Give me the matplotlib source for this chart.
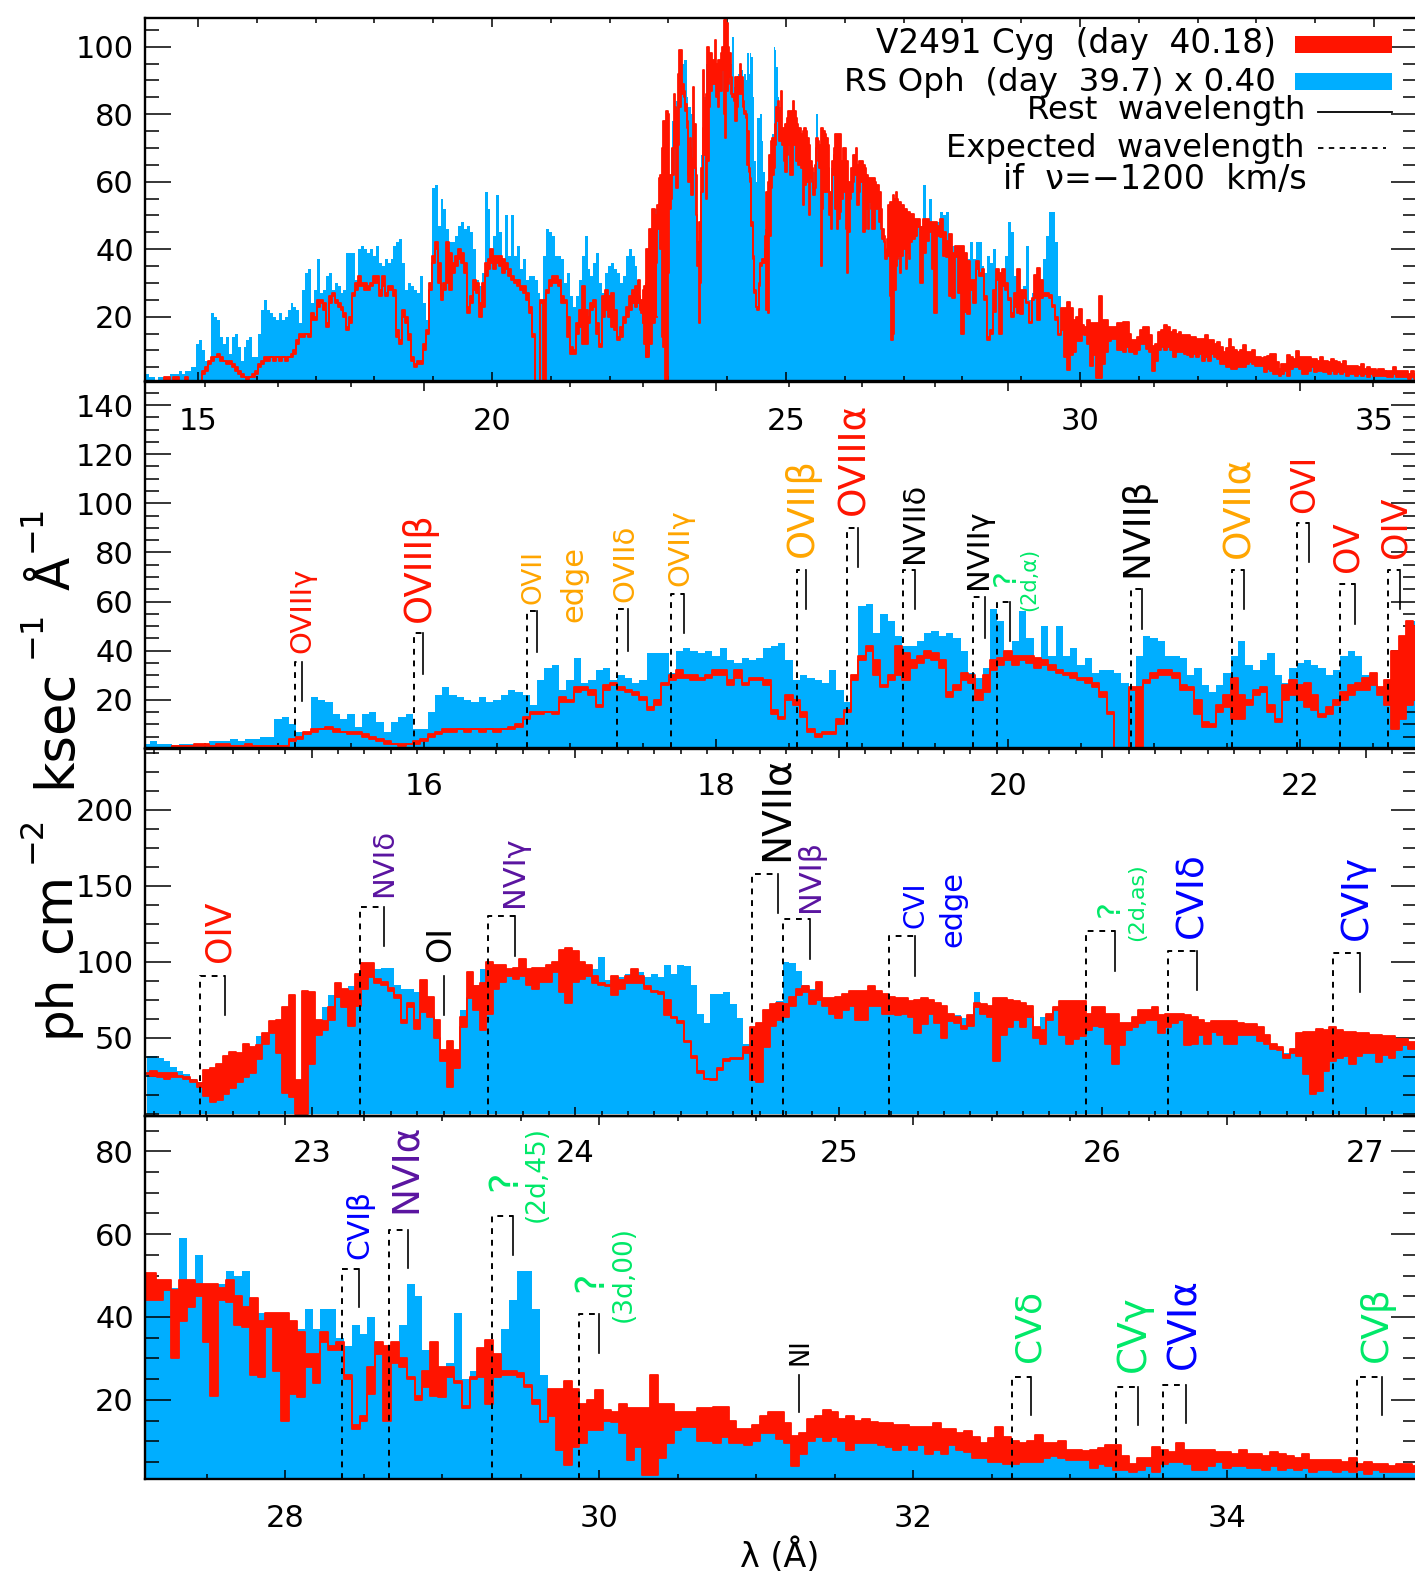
import numpy as np
import matplotlib
matplotlib.use('Agg')
import matplotlib.pyplot as plt
from matplotlib.ticker import MultipleLocator
from matplotlib.patches import Rectangle

W, H = 1415, 1576

### spectra, regular bins
p2_start, p2_step = 14.10, 0.05
p2_blue = [2,3,2,2,1,2,2,2,2,3,
    3,3,4,3,4,4,5,5,12,13,
    10,7,7,21,20,19,14,12,14,9,
    14,15,11,7,11,13,14,8,8,15,
    22,25,22,21,20,19,21,19,20,22,
    24,23,22,18,28,33,34,24,28,37,
    27,28,32,33,28,30,29,27,28,39,
    39,39,31,40,41,40,39,40,38,41,
    36,35,37,36,37,41,42,43,36,28,
    30,29,28,27,32,24,19,30,58,59,
    47,55,52,46,42,42,44,47,48,46,
    47,45,40,31,29,33,57,52,38,44,
    56,45,33,50,38,50,38,41,34,37,
    31,32,32,31,27,20,38,46,45,44,
    38,38,37,30,33,26,23,26,31,38,
    44,34,32,36,39,30,27,33,35,36,
    34,33,30,32,38,40,38,30,27,24,
    26,30,36,45,52]
p2_hi = [0,0,0,0,1,1,1,2,2,1,
    2,2,1,1,2,1,1,1,1,1,
    4,5,7,8,8,9,8,7,7,7,
    6,5,4,3,2,2,2,3,4,6,
    7,8,8,8,8,8,8,8,8,8,
    9,10,13,15,15,15,15,21,20,25,
    25,24,18,26,27,25,24,23,21,17,
    20,27,30,32,30,30,29,30,32,32,
    28,32,27,29,29,28,16,13,22,20,
    15,8,6,7,7,12,16,30,38,42,
    36,26,30,42,39,36,38,40,39,36,
    23,26,31,30,24,30,36,37,40,38,
    38,38,37,36,34,32,31,31,29,29,
    27,23,15,0,0,25,25,28,31,32,
    32,31,26,25,20,11,10,18,22,29,
    22,20,24,25,18,12,26,28,26,27,
    22,14,17,20,23,26,27,29,31,25,
    28,40,46,52,50]
p2_lo = [0,0,0,0,1,1,1,1,1,1,
    1,1,1,1,1,1,1,1,1,1,
    3,4,6,7,8,8,7,7,6,6,
    5,4,3,2,2,1,2,2,3,5,
    6,7,7,8,7,8,7,8,7,8,
    8,9,12,14,14,15,14,19,19,23,
    24,22,17,24,26,24,23,22,20,16,
    18,26,28,29,29,28,28,29,30,30,
    26,29,26,28,28,26,14,12,20,18,
    13,7,5,6,6,10,15,28,36,40,
    30,25,28,30,28,33,35,37,36,33,
    21,24,28,27,20,23,32,34,36,34,
    36,35,33,34,32,31,30,29,28,27,
    25,21,14,0,0,24,0,27,29,30,
    30,29,24,24,14,9,9,15,17,12,
    12,18,22,23,15,11,20,22,20,17,
    16,13,14,18,20,22,24,24,26,22,
    18,8,12,18,20]

p3_start, p3_step = 22.375, 0.025
p3_blue = [38,38,37,35,31,28,26,23,21,20,
    23,26,29,34,38,41,44,51,53,56,
    60,62,64,22,65,60,62,70,78,83,
    82,84,88,92,95,95,96,96,85,82,
    82,80,77,70,62,35,18,30,68,72,
    85,95,92,90,90,91,92,92,90,88,
    90,90,92,93,85,90,93,91,95,103,
    88,90,90,92,92,93,90,92,90,98,
    92,98,97,85,66,60,79,79,80,72,
    63,46,56,60,62,68,74,100,99,94,
    85,82,80,76,72,72,72,74,72,74,
    76,74,72,72,70,72,70,65,68,70,
    70,66,60,65,63,63,80,66,45,55,
    60,64,66,64,60,55,64,63,65,62,
    55,50,52,54,58,56,50,42,40,50,
    56,58,60,60,52,55,57,58,55,50,
    52,54,53,55,52,52,54,54,52,50,
    46,42,44,40,40,37,28,18,20,30,
    37,37,38,36,38,38,36,33,38,36,
    38,42,44,44]
p3_hi = [27,28,27,27,27,25,24,22,20,29,
    30,33,38,41,40,46,44,45,53,61,
    62,70,78,22,81,80,62,61,70,86,
    82,81,92,99,99,89,87,83,78,62,
    73,62,88,77,62,42,48,42,64,93,
    84,86,100,98,98,95,96,102,95,96,
    96,98,100,108,109,107,100,98,91,86,
    85,91,88,91,95,91,84,81,80,75,
    64,61,48,38,28,23,23,30,36,37,
    37,44,57,60,68,72,73,72,77,82,
    84,81,87,76,76,77,79,81,81,81,
    84,81,79,77,76,76,74,75,76,75,
    73,71,66,64,58,65,73,72,71,76,
    76,75,74,73,71,57,55,66,70,74,
    74,74,74,66,70,70,66,66,60,60,
    64,68,68,70,65,66,66,66,65,64,
    62,60,61,61,61,61,60,59,59,57,
    52,46,44,39,43,53,54,54,56,55,
    57,55,54,54,53,53,52,52,51,51,
    49,49,47,47]
p3_lo = [26,25,24,23,24,24,23,21,18,12,
    8,9,13,17,21,24,27,36,46,53,
    40,14,11,0,0,33,52,55,62,77,
    70,58,71,82,90,86,85,81,76,60,
    70,56,67,64,50,35,18,30,57,76,
    68,55,66,82,87,91,89,91,85,82,
    87,87,93,80,73,87,89,91,86,85,
    84,78,82,86,86,86,82,80,79,65,
    63,60,47,37,27,23,22,29,35,36,
    36,40,22,21,44,58,62,64,71,78,
    80,72,75,71,66,63,68,71,62,62,
    71,71,66,66,65,66,64,53,59,66,
    60,50,61,60,56,58,70,66,64,35,
    52,57,62,57,64,50,46,62,68,52,
    46,49,51,55,58,57,46,33,45,55,
    57,60,62,62,53,57,60,62,45,46,
    52,46,54,52,46,46,52,52,52,48,
    46,43,42,37,40,38,26,13,15,28,
    35,37,38,33,38,40,40,34,39,37,
    42,45,43,44]

p4_start, p4_step = 27.10, 0.05
p4_blue = [50,
    50,48,49,47,59,49,55,48,48,48,
    51,50,51,44,41,39,41,40,38,37,
    42,37,42,42,35,33,38,36,40,31,
    28,32,38,48,45,32,28,26,29,41,
    25,27,30,29,31,37,44,51,51,42,
    26,19,10,6,10,11,13,13,15,15,
    12,7,10,3,3,6,9,12,13,13,
    12,10,10,11,10,9,9,10,11,12,
    11,9,5,4,7,10,11,10,11,9,
    10,10,10,9,9,9,9,9,8,8,
    9,8,9,8,8,8,7,6,6,5,
    6,6,6,6,6,6,6,6,6,5,
    5,5,5,4,4,3,3,3,4,4,
    5,5,4,4,4,4,4,4,3,4,
    4,3,3,3,3,3,3,3,3,3,
    3,3,2,2,3,2,2,3,2,2,
    2,2]
p4_hi = [50.5,
    50.5,49,49,46.5,49,49,48,48,48,47,
    49,45,42.5,44.5,39,41,41,41,39,36.4,
    31,31,36.4,33,34,26,14,16,28,34,
    33,34,30,25.6,21,27,34,28,28,24.5,
    18.5,25.6,32.4,34.5,31,27,27,26.4,23.5,20,
    15,22.7,22.7,24.5,22.7,19,20,22.3,17.5,17,
    19,18,18,18,26,19,19,17,17,17,
    18,18,18.3,18.3,15,13,13,14,16,17,
    17,14.5,11.3,12,15.5,16,17.5,17,15.5,16,
    15,15.5,14.7,14.5,14.5,14,14,13.5,13.5,13.5,
    14.5,13,13,12,12.5,11,9.5,10.7,13.5,11,
    10,9.5,10,11.5,9.5,9.5,10,8,8,7.7,
    8,8.5,9,9,6.5,4.6,6,6,8.6,8,
    7.5,9.7,8,8,8,8,7.5,7.5,7,8,
    7,7,6.5,7.5,7,6.5,6,7,5.5,5.5,
    5.5,5.5,5,6,4.5,5,4.5,4.5,4,4.5,
    4.5,4]
p4_lo = [44,
    44,44,46.5,30,39,42.5,45,34,21,44,
    43.7,38,37.6,26,25.6,37.6,27,15,21.5,20.7,
    28,24,34,32,32,25,13,15,21.5,31,
    15,29,28,25,20,23,21,20.7,25.6,24,
    18,25,25.6,19,25.6,26,26,25.6,23,19,
    14.7,16,8,4.2,8.6,9.5,12.7,12.7,15,14.7,
    12,5.4,8.6,1.8,1.8,6,9.5,12.7,13.5,13.5,
    10,10,9.5,11,9.5,9.5,9,10,12,12,
    10.5,9.5,4,7,10,11,10,11,10,8,
    9.5,9.5,9.5,9,8.6,8,9,8,9,7,
    8,7,9,8,7.5,6,6,5,5,4.6,
    4.6,5,5,5,6,6.5,6,5.4,5.4,5.4,
    3.5,4.5,4,3,3,2.5,3,4,2.5,4.5,
    5,5,4.6,3,3,4,5,3.5,4,4,
    3.5,3.5,3,4,3,3.5,3,3.5,2.5,3,
    3,2.5,3,2.5,3,2,3,2.5,2.5,2.5,
    2.5,2.5]

# long wavelength end, only seen in the top panel
p1_start, p1_step = 35.2, 0.05
p1_blue = [2,2,2,2,1,2,1,1,1,1,1,1]
p1_hi = [4,4,4,5,4,4,4,4,3,4,3,3]
p1_lo = [2.5,2,2,3,2,2,2,2,1.5,2,1.5,2]

### line markers: expected wavelength (dashed), rest wavelength, top and end of the solid bit
p2_exp = [15.115,15.93,16.705,17.32,17.695,18.553,18.90,19.283,19.76,19.925,20.84,21.53,21.975,22.276,22.60]
p2_rest = [15.168,15.994,16.773,17.398,17.78,18.615,18.97,19.363,19.845,20.01,20.92,21.615,22.06,22.376,22.686]
p2_top = [35.4,47.3,56,57,63,73,90,73,62,60,65,73,92,67,73]
p2_end = [19.3,30.3,39.3,40,47,57,74,57,45,44,49,57,76,51,57]

p3_exp = [22.577,23.183,np.nan,23.668,24.67,24.79,25.19,25.94,26.25,26.875]
p3_rest = [22.67,23.275,23.50,23.77,24.77,24.89,25.29,26.05,26.36,26.98]
p3_top = [91,136,91,130,157.6,128,117,120,107,105.6]
p3_end = [65,110.5,65,104,132,102,91,94,81.6,80]

p4_exp = [28.36,28.665,29.32,29.87,np.nan,32.63,33.29,33.59,34.83]
p4_rest = [28.47,28.78,29.45,30.0,31.275,32.75,33.43,33.74,34.99]
p4_top = [51.6,61,64.4,40.7,26,25.6,23,23.7,25.6]
p4_end = [42.5,51.7,55,31.4,17,16.3,14,14.4,16.3]

RED = '#ff1400'
SKY = '#00aeff'
ORANGE = '#ffa500'
PURPLE = '#5a14a0'
GREEN = '#00e868'
BLUE = '#0000ff'

# text, colour, centre x px, bottom y px, size
line_labels = [
    ('OVIIIγ',RED,302,653,21), ('OVIIIβ',RED,419,622,26.5), ('OVII',ORANGE,534,604,19),
    ('edge',ORANGE,574,622,22), ('OVIIδ',ORANGE,625,602,21), ('OVIIγ',ORANGE,680,586,21),
    ('OVIIβ',ORANGE,802,557,26.5), ('OVIIIα',RED,854,515,27), ('NVIIδ',  'k',914,563,22),
    ('NVIIγ','k',979,589,22), ('?',GREEN,1006,586,23), ('(2d,α)',GREEN,1029,611,15),
    ('NVIIβ','k',1137,577,27), ('OVIIα',ORANGE,1239,558,27), ('OVI',RED,1305,513,24),
    ('OV',RED,1348,572,25), ('OIV',RED,1395,558,25),
    ('OIV',RED,220,962,25), ('NVIδ',PURPLE,384,897,21), ('OI','k',441,962,24),
    ('NVIγ',PURPLE,514,907,22), ('NVIIα','k',777,861,28), ('NVIβ',PURPLE,811,912,22),
    ('CVI',BLUE,915,928,20), ('edge',BLUE,953,947,22), ('?',GREEN,1110,917,23),
    ('(2d,as)',GREEN,1137,941,16), ('CVIδ',BLUE,1192,938,27), ('CVIγ',BLUE,1357,940,27),
    ('CVIβ',BLUE,360,1259,21.5), ('NVIα',PURPLE,406,1213,27), ('?',GREEN,505,1191,28),
    ('(2d,45)',GREEN,537,1222,19), ('?',GREEN,591,1292,28), ('(3d,00)',GREEN,624,1322,19),
    ('NI','k',800,1365,18.5), ('CVδ',GREEN,1029,1362,26), ('CVγ',GREEN,1134,1372,28),
    ('CVIα',BLUE,1184,1369,28), ('CVβ',GREEN,1377,1362,27),
]


def make_axes(fig, top, bottom, xlim, ylim, xmaj, xmin, ymaj, ymin, pad):
    ax = fig.add_axes([145/W, 1-bottom/H, (1417-145)/W, (bottom-top)/H])
    ax.set_facecolor('none')
    ax.set_xlim(xlim)
    ax.set_ylim(ylim)
    ax.xaxis.set_major_locator(MultipleLocator(xmaj))
    ax.xaxis.set_minor_locator(MultipleLocator(xmin))
    ax.yaxis.set_major_locator(MultipleLocator(ymaj))
    ax.yaxis.set_minor_locator(MultipleLocator(ymin))
    ax.tick_params(axis='x', which='major', direction='in', top=True, length=6.5, width=1.1, labelsize=22, pad=pad)
    ax.tick_params(axis='x', which='minor', direction='in', top=True, length=3.6, width=1.1)
    ax.tick_params(axis='y', which='major', direction='in', right=True, length=18.7, width=1.1, labelsize=22, pad=8)
    ax.tick_params(axis='y', which='minor', direction='in', right=True, length=10, width=1.1)
    for s in ax.spines.values():
        s.set_linewidth(1.7)
    return ax


def draw_spectrum(ax, start, step, blue, hi, lo):
    x = start + step*np.arange(len(blue))
    # blue always reaches up under the red band
    ax.fill_between(x, 0, np.maximum(blue, lo), step='mid', color=SKY, lw=0, zorder=1)
    ax.fill_between(x, lo, hi, step='mid', color=RED, lw=0, zorder=2)
    ax.step(x, hi, where='mid', color=RED, lw=1.3, zorder=2)
    ax.step(x, lo, where='mid', color=RED, lw=1.3, zorder=2)


def draw_markers(ax, exp, rest, top, end, y0):
    for e, r, t, b in zip(exp, rest, top, end):
        ax.plot([r, r], [t, b], color='k', lw=1.2, zorder=3)
        if not np.isnan(e):
            ax.plot([e, e, r], [y0, t, t], color='k', lw=1.4, ls=(0, (3, 3)), zorder=3)


fig = plt.figure(figsize=(W/100, H/100), dpi=100, facecolor='white')

ax1 = make_axes(fig, 17.7, 381, (14.10, 35.73), (0.95, 108.6), 5, 1, 20, 5, 19)
ax2 = make_axes(fig, 382, 748, (14.09, 22.80), (0.35, 149.4), 2, 0.5, 20, 5, 17)
ax3 = make_axes(fig, 749, 1115.7, (22.367, 27.195), (-1.2, 240), 1, 0.1, 50, 12.5, 17)
ax4 = make_axes(fig, 1116, 1479, (27.108, 35.21), (0.9, 88.5), 2, 0.5, 20, 5, 18)

for ax, t in ((ax1, [20,40,60,80,100]), (ax2, [20,40,60,80,100,120,140]),
              (ax3, [50,100,150,200]), (ax4, [20,40,60,80])):
    ax.set_yticks(t)

draw_spectrum(ax1, p2_start, p2_step, p2_blue, p2_hi, p2_lo)
draw_spectrum(ax1, p3_start, p3_step, p3_blue, p3_hi, p3_lo)
draw_spectrum(ax1, p4_start, p4_step, p4_blue, p4_hi, p4_lo)
draw_spectrum(ax1, p1_start, p1_step, p1_blue, p1_hi, p1_lo)
draw_spectrum(ax2, p2_start, p2_step, p2_blue, p2_hi, p2_lo)
draw_spectrum(ax3, p3_start, p3_step, p3_blue, p3_hi, p3_lo)
draw_spectrum(ax4, p4_start, p4_step, p4_blue, p4_hi, p4_lo)

draw_markers(ax2, p2_exp, p2_rest, p2_top, p2_end, 0.35)
draw_markers(ax3, p3_exp, p3_rest, p3_top, p3_end, -1.2)
draw_markers(ax4, p4_exp, p4_rest, p4_top, p4_end, 0.9)


def px_text(x, y, s, **kw):
    return fig.text(x/W, 1-y/H, s, **kw)


for s, c, x, y, fs in line_labels:
    px_text(x, y, s, color=c, fontsize=fs, rotation=90, ha='center', va='bottom')

# y axis label is set piece by piece
for s, x, y, fs in [('ph',70,1037,36), ('cm',70,953,38), ('−2',41,863,23), ('ksec',70,788,38),
                    ('−1',41,658,23), ('Å',70,590,35), ('−1',41,552,23)]:
    px_text(x, y, s, fontsize=fs, rotation=90, ha='left', va='baseline', rotation_mode='anchor')

px_text(780, 1556, 'λ (Å)', fontsize=24, ha='center', va='center')

# legend
px_text(1276, 44, 'V2491 Cyg  (day  40.18)', fontsize=23.6, ha='right', va='center')
px_text(1276, 82, 'RS Oph  (day  39.7) x 0.40', fontsize=23.4, ha='right', va='center')
px_text(1305, 110, 'Rest  wavelength', fontsize=23.2, ha='right', va='center')
px_text(1305, 148, 'Expected  wavelength', fontsize=23.2, ha='right', va='center')
px_text(1307, 180, 'if  ν=−1200  km/s', fontsize=24, ha='right', va='center')
for y0, c in ((36, RED), (73, SKY)):
    fig.add_artist(Rectangle((1295/W, 1-(y0+17)/H), 97/W, 17/H, transform=fig.transFigure, color=c, lw=0))
fig.add_artist(plt.Line2D([1318/W, 1392/W], [1-112/H]*2, color='k', lw=1.3))
fig.add_artist(plt.Line2D([1318/W, 1386/W], [1-148/H]*2, color='k', lw=1.3, ls=(0, (3, 3))))

fig.savefig('out.png', dpi=100)
